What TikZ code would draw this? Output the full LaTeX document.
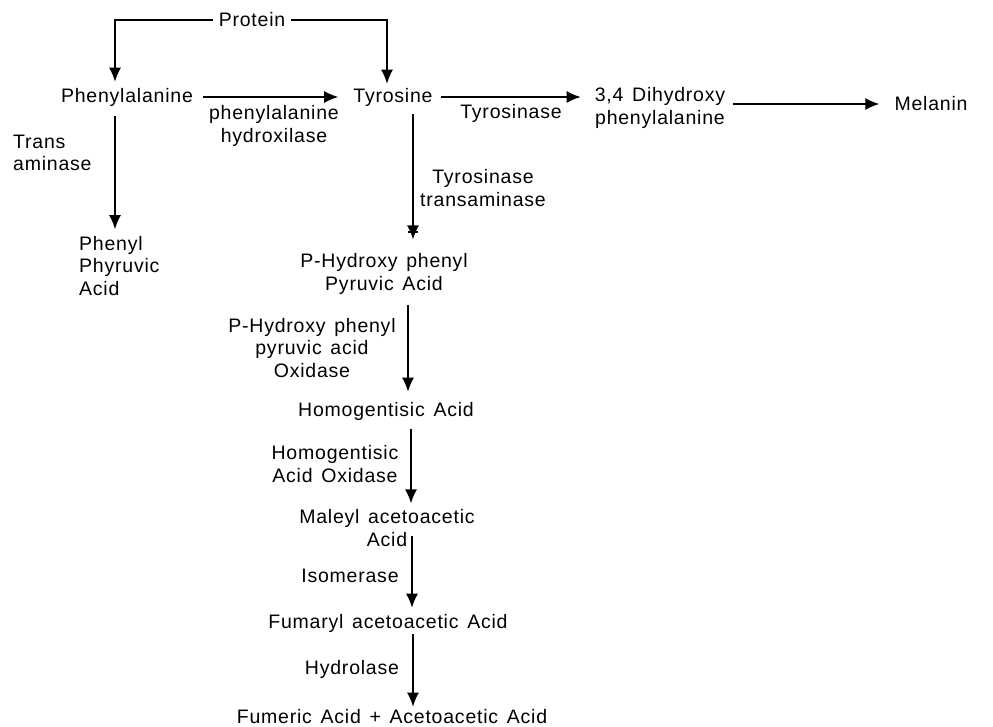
\documentclass[tikz,border=0pt]{standalone}
\usepackage{fontspec}
\setmainfont{Liberation Sans}[LetterSpace=4,WordSpace=1.4]
\usepackage{tikz}
\usetikzlibrary{arrows.meta,calc,positioning}

\begin{document}
\begin{tikzpicture}[x=1pt,y=-1pt,
  font=\fontsize{19.5}{22.5}\selectfont,
  every node/.style={inner sep=0pt},
  pfeil/.style={line width=1.5pt,-{Latex[length=14pt,width=12pt]}},
  linie/.style={line width=1.5pt}]
\useasboundingbox (0,0) rectangle (993,727);
%Stoffe
\node (prot) at (252,20) {Protein};
\node (phe) at (127,97) {Phenylalanine};
\node (tyr) at (393,97) {Tyrosine};
\node[align=center] (dopa) at (660,108) {3,4 Dihydroxy\\phenylalanine};
\node (mel) at (931,104) {Melanin};
\node[anchor=west,align=left] (ppa) at (79,266) {Phenyl\\Phyruvic\\Acid};
\node[align=center] (hpp) at (384,274) {P-Hydroxy phenyl\\Pyruvic Acid};
\node (hga) at (386,411) {Homogentisic Acid};
\node[align=center] (maa) at (387,528) {Maleyl acetoacetic\\Acid};
\node (faa) at (388,623) {Fumaryl acetoacetic Acid};
\node (fum) at (392,717) {Fumeric Acid + Acetoacetic Acid};
%Enzyme
\node[align=center] (phh) at (274,126) {phenylalanine\\hydroxilase};
\node[anchor=west,align=left] (trans) at (13,153) {Trans\\aminase};
\node (tyrase) at (511,113) {Tyrosinase};
\node[align=center] (tyrtrans) at (483,188) {Tyrosinase\\transaminase};
\node[align=center] (hppo) at (312,348) {P-Hydroxy phenyl\\pyruvic acid\\Oxidase};
\node[align=center] (hgo) at (335,464) {Homogentisic\\Acid Oxidase};
\node (iso) at (350,576) {Isomerase};
\node (hyd) at (352,669) {Hydrolase};
%Pfeile oben
\draw[pfeil,shorten <=6pt,shorten >=6pt] (prot.west) -| ([xshift=-12]phe.north);
\draw[pfeil,shorten <=6pt,shorten >=4pt] (prot.east) -| ([xshift=-6]tyr.north);
\draw[pfeil,shorten <=10pt,shorten >=15pt] (phe.east) -- (tyr.west);
\draw[pfeil,shorten <=8pt,shorten >=14pt] (tyr.east) -- (tyr.east -| dopa.west);
\draw[pfeil,shorten <=8pt,shorten >=15pt] (dopa.east |- mel.west) -- (mel.west);
\draw[pfeil,shorten <=10pt,shorten >=7pt] ([xshift=-12]phe.south) -- ([xshift=-12]phe.south |- ppa.north);
%Abbau
\draw[pfeil,shorten <=8pt,shorten >=14pt] ([xshift=20]tyr.south) -- ([xshift=20]tyr.south |- hpp.north);
\draw[linie] (408,232) -- (418,232);
\draw[pfeil,shorten <=10pt,shorten >=10pt] ([xshift=24]hpp.south) -- ([xshift=24]hpp.south |- hga.north);
\draw[pfeil,shorten <=9pt,shorten >=6pt] ([xshift=25]hga.south) -- ([xshift=25]hga.south |- maa.north);
\coordinate (maaout) at ($(maa.south)+(25,-11)$);
\draw[pfeil,shorten >=6pt] (maaout) -- (maaout |- faa.north);
\draw[pfeil,shorten <=2pt,shorten >=3pt] ([xshift=25]faa.south) -- ([xshift=25]faa.south |- fum.north);
\end{tikzpicture}
\end{document}
